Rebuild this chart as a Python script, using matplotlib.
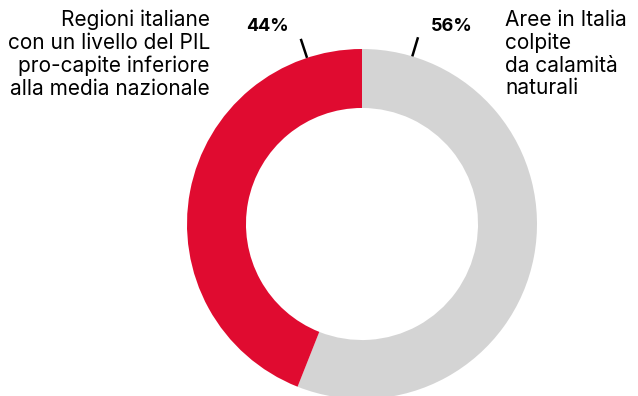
import matplotlib
matplotlib.use("Agg")
import matplotlib.pyplot as plt
import numpy as np

# data
labels = ["Aree in Italia\ncolpite\nda calamità\nnaturali",
          "Regioni italiane\ncon un livello del PIL\npro-capite inferiore\nalla media nazionale"]
values = [56, 44]
colors = ["#D4D4D4", "#E00B30"]

plt.rcParams['font.family'] = ['Inter', 'DejaVu Sans']

W, H = 638, 396
fig = plt.figure(figsize=(W / 100, H / 100), dpi=100)
ax = fig.add_axes([0, 0, 1, 1])

cx, cy, r = 362, H - 224, 175
ax.pie(values, colors=colors, startangle=90, counterclock=False,
       radius=r, center=(cx, cy),
       wedgeprops=dict(width=r * 0.337, linewidth=0))

ax.set_xlim(0, W)
ax.set_ylim(0, H)
ax.set_aspect('equal')
ax.axis('off')

# small tick lines near the top of the ring (degrees clockwise from top)
tick_ang = [16.7, -18.3]
for a in tick_ang:
    t = np.deg2rad(a)
    r0, r1 = r, r + 20
    ax.plot([cx + r0 * np.sin(t), cx + r1 * np.sin(t)],
            [cy + r0 * np.cos(t), cy + r1 * np.cos(t)],
            color='black', lw=1.8, solid_capstyle='butt')

# percentage labels
ax.text(451.5, H - 30.7, f"{values[0]}%", fontsize=13, fontweight='bold',
        ha='center', va='baseline')
ax.text(267.5, H - 30.7, f"{values[1]}%", fontsize=13, fontweight='bold',
        ha='center', va='baseline')

# category labels (va='baseline' anchors the last line)
ax.text(505, H - 94.5, labels[0], fontsize=15, ha='left', va='baseline',
        linespacing=1.17)
ax.text(210, H - 95, labels[1], fontsize=15, ha='right', va='baseline',
        linespacing=1.17)

fig.savefig("out.png", dpi=100)
